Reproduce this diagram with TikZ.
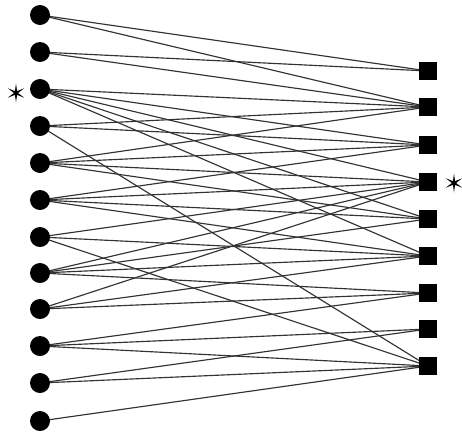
\documentclass[tikz,border=0pt]{standalone}
\usetikzlibrary{shapes.geometric}
\begin{document}
\begin{tikzpicture}[x=1pt,y=-1pt,
  lnode/.style={circle,fill=black,inner sep=0pt,minimum size=20pt},
  rnode/.style={rectangle,fill=black,inner sep=0pt,minimum size=18pt},
  mark6/.style={star,star points=6,star point ratio=4.5,fill=black,inner sep=0pt,minimum size=19pt},
  edge/.style={draw=black!80,line width=1.15pt}]
\useasboundingbox[fill=white] (0,0) rectangle (462,437);
\foreach \i/\y in {1/15,2/52,3/89,4/126,5/163,6/200,7/237,8/273,9/309,10/346,11/383,12/421}
  \coordinate (cl\i) at (40,\y);
\foreach \i/\y in {1/71,2/107,3/145,4/182,5/219,6/256,7/293,8/329,9/366}
  \coordinate (cr\i) at (428,\y);
\foreach \a/\b in {1/1,1/2,2/1,2/2,3/2,3/3,3/4,3/5,3/6,4/2,4/3,4/9,5/2,5/3,5/4,5/5,
  6/3,6/4,6/5,6/6,7/4,7/6,7/9,8/4,8/5,8/6,8/7,9/4,9/6,9/7,10/7,10/8,10/9,11/8,11/9,12/9}
  \draw[edge] (cl\a) -- (cr\b);
\foreach \i in {1,...,12} \node[lnode] (L\i) at (cl\i) {};
\foreach \i in {1,...,9} \node[rnode] (R\i) at (cr\i) {};
\node[mark6] (s1) at (16,93) {};
\node[mark6] (s2) at (454,183) {};
\end{tikzpicture}
\end{document}
